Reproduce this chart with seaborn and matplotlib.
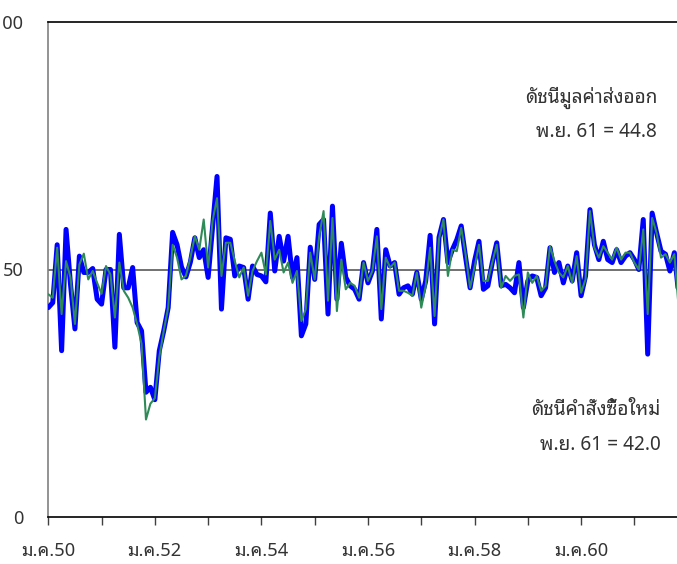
import matplotlib
matplotlib.use("Agg")
import matplotlib.pyplot as plt
from matplotlib import font_manager as fm
import numpy as np
import pandas as pd
import seaborn as sns

# ---------------- data ----------------
export_value = [
    42.3, 43.3, 55.0, 33.6, 58.1, 47.0, 38.0, 52.7, 49.4, 49.4,
    50.2, 44.0, 43.0, 50.0, 50.0, 34.3, 57.1, 46.3, 46.3, 50.4,
    39.3, 37.6, 25.2, 26.2, 23.7, 33.6, 37.6, 42.3, 57.5, 55.0,
    50.5, 48.5, 51.5, 56.4, 52.4, 54.0, 48.4, 58.5, 68.8, 42.0,
    56.4, 56.1, 48.7, 50.7, 50.4, 44.0, 50.7, 49.0, 48.7, 47.5,
    61.4, 49.7, 56.7, 51.7, 56.7, 48.4, 52.4, 36.6, 39.0, 54.5,
    48.0, 59.1, 60.1, 41.0, 62.8, 44.0, 55.3, 48.4, 46.7, 46.0,
    44.0, 51.4, 47.3, 49.7, 58.1, 40.0, 54.0, 50.7, 51.4, 45.0,
    46.3, 46.7, 45.0, 49.4, 44.0, 47.7, 56.9, 39.0, 56.5, 60.1,
    51.4, 54.0, 56.0, 58.8, 52.4, 46.3, 51.7, 55.7, 46.0, 46.7,
    51.4, 55.4, 46.7, 47.0, 46.3, 45.3, 51.4, 42.3, 47.7, 48.7,
    48.4, 44.7, 46.3, 54.4, 49.4, 51.4, 47.3, 50.7, 47.7, 53.4,
    44.7, 48.7, 62.1, 55.0, 52.0, 55.7, 52.0, 51.4, 54.0, 51.4,
    52.7, 53.4, 52.0, 50.0, 60.1, 32.9, 61.4, 57.4, 53.7, 53.1,
    49.7, 53.4, 44.8,
]
new_orders = [
    45.0, 44.3, 54.4, 41.0, 51.7, 48.4, 39.0, 51.0, 53.2, 48.0,
    49.7, 47.3, 45.1, 50.7, 49.0, 40.3, 51.4, 45.7, 44.3, 42.3,
    39.0, 35.0, 19.7, 22.9, 24.0, 32.3, 37.6, 42.3, 55.0, 52.4,
    48.0, 48.7, 52.4, 56.7, 54.0, 60.1, 50.4, 59.8, 64.4, 48.7,
    55.4, 55.4, 51.7, 48.4, 50.4, 44.7, 49.7, 51.7, 53.4, 49.0,
    59.8, 52.0, 54.0, 49.4, 51.4, 47.3, 49.7, 39.6, 42.0, 53.4,
    48.0, 56.7, 61.8, 43.7, 60.4, 41.6, 52.0, 46.0, 47.3, 46.7,
    44.3, 51.4, 47.7, 49.7, 56.7, 42.0, 52.4, 50.4, 51.4, 45.7,
    45.7, 45.3, 44.7, 49.4, 42.3, 46.7, 54.4, 40.6, 56.2, 60.1,
    48.7, 54.0, 53.7, 58.4, 53.0, 46.3, 50.4, 55.0, 47.7, 47.7,
    51.4, 55.0, 46.3, 48.7, 47.7, 48.7, 49.0, 40.3, 49.4, 47.3,
    48.7, 45.7, 46.7, 54.7, 51.7, 49.4, 48.4, 50.7, 47.3, 52.7,
    45.3, 48.0, 61.8, 54.4, 52.4, 54.7, 53.4, 52.0, 54.4, 52.0,
    53.4, 53.4, 51.4, 50.0, 58.1, 41.0, 60.4, 57.4, 52.4, 53.1,
    51.4, 53.1, 42.0,
]
tick_labels = ["ม.ค.50", "ม.ค.52", "ม.ค.54", "ม.ค.56", "ม.ค.58", "ม.ค.60"]
y_ticks = [0, 50, 100]
label_export = "ดัชนีมูลค่าส่งออก"
label_export_val = "พ.ย. 61 = 44.8"
label_orders = "ดัชนีคำสั่งซื้อใหม่"
label_orders_val = "พ.ย. 61 = 42.0"

assert len(export_value) == len(new_orders)
months = np.arange(len(export_value))
df = pd.DataFrame({"month": months, "export": export_value, "orders": new_orders})

# ---------------- fonts ----------------
sns.set_style("white")
available = {f.name for f in fm.fontManager.ttflist}
thai_font = None
for p in ["Noto Sans Thai Looped", "IBM Plex Sans Thai Looped", "Noto Sans Thai",
          "Sarabun", "IBM Plex Sans Thai"]:
    if p in available:
        thai_font = p
        break
plt.rcParams["font.family"] = ([thai_font] if thai_font else []) + ["DejaVu Sans"]

# ---------------- figure ----------------
W, H = 677, 564
fig = plt.figure(figsize=(W / 100, H / 100), dpi=100)
x0_px, px_per_month = 48.3, 4.44
xmax = 143.5
top_px, bot_px = 22, 517
ax = fig.add_axes([x0_px / W, (H - bot_px) / H,
                   xmax * px_per_month / W, (bot_px - top_px) / H])

sns.lineplot(data=df, x="month", y="export", ax=ax, color="#0000FF",
             linewidth=3.6, solid_joinstyle="round", zorder=3)
sns.lineplot(data=df, x="month", y="orders", ax=ax, color="#2E8B57",
             linewidth=1.5, zorder=4)
ax.axhline(50, color="#595959", linewidth=1.2, zorder=2)

ax.set_xlim(0, xmax)
ax.set_ylim(0, 100)
ax.set_xlabel("")
ax.set_ylabel("")
ax.set_xticks(np.arange(0, 144, 12))
ax.set_xticklabels([tick_labels[k // 2] if k % 2 == 0 else "" for k in range(12)])
ax.set_yticks(y_ticks)
ax.set_yticklabels([str(v) for v in y_ticks])
ax.tick_params(axis="x", direction="out", length=6, width=1, color="#404040",
               pad=12, labelsize=13.2, labelcolor="#333333", bottom=True)
ax.tick_params(axis="y", length=0, pad=18, labelsize=13, labelcolor="#333333")

ax.spines["left"].set_color("#808080")
ax.spines["left"].set_linewidth(1.2)
ax.spines["bottom"].set_color("#000000")
ax.spines["bottom"].set_linewidth(1.2)
ax.spines["top"].set_color("#000000")
ax.spines["top"].set_linewidth(1.2)
ax.spines["right"].set_visible(False)
ax.grid(False)

txt_kw = dict(ha="right", va="center", fontsize=13.7, color="#333333")
fig.text(657 / W, 1 - 98 / H, label_export, **txt_kw)
fig.text(657 / W, 1 - 132 / H, label_export_val, **txt_kw)
fig.text(661 / W, 1 - 410 / H, label_orders, **txt_kw)
fig.text(661 / W, 1 - 445 / H, label_orders_val, **txt_kw)

fig.savefig("out.png", dpi=100)
